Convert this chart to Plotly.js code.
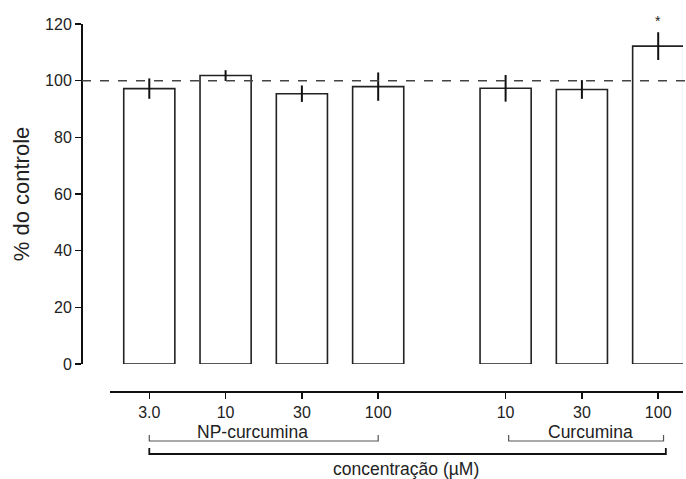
<!DOCTYPE html>
<html>
<head>
<meta charset="utf-8">
<script src="https://cdn.plot.ly/plotly-3.0.1.min.js"></script>
<style>html,body{margin:0;padding:0;background:#fff;}#chart{width:686px;height:479px;}</style>
</head>
<body>
<div id="chart"></div>
<script>
// Data
var positions = [0, 1, 2, 3, 4.67, 5.67, 6.67];
var tickLabels = ['3.0', '10', '30', '100', '10', '30', '100'];
var values = [97.2, 101.8, 95.4, 97.9, 97.3, 96.9, 112.2];
var errors = [3.6, 1.9, 2.9, 5.0, 4.7, 3.3, 4.9];
var groupNames = ['NP-curcumina', 'Curcumina'];
var groupSpans = [[0, 3], [4.71, 6.74]];
var outerSpan = [0, 6.77];
var xTitle = 'concentração (µM)';
var yTitle = '% do controle';
var controlLevel = 100;
var significant = [false, false, false, false, false, false, true];

var FONT = 'Arial, "Liberation Sans", Helvetica, sans-serif';
var W = 686, H = 479;
var margin = {l: 82, r: 3, t: 24, b: 87};
var pw = W - margin.l - margin.r;
var ph = H - margin.t - margin.b;
var xDomain = [28 / pw, 1];
var xRange = [-0.515, 6.995];
var yDomain = [28 / ph, 1];

function xp(x) { // data x -> paper x
  return xDomain[0] + (x - xRange[0]) / (xRange[1] - xRange[0]) * (xDomain[1] - xDomain[0]);
}
function yp(px) { // pixel offset below the plot bottom -> paper y
  return -px / ph;
}

var shapes = [];
// dashed control line
shapes.push({type: 'line', xref: 'paper', yref: 'y', x0: 0, x1: 1.005, y0: controlLevel, y1: controlLevel,
  line: {color: '#444', width: 1.5, dash: 'dash'}});
// group brackets
groupSpans.forEach(function (s) {
  shapes.push({type: 'path', xref: 'paper', yref: 'paper',
    path: 'M' + xp(s[0]) + ',' + yp(43) + ' L' + xp(s[0]) + ',' + yp(49) + ' L' + xp(s[1]) + ',' + yp(49) + ' L' + xp(s[1]) + ',' + yp(43),
    line: {color: '#555', width: 1.2}});
});
shapes.push({type: 'path', xref: 'paper', yref: 'paper',
  path: 'M' + xp(outerSpan[0]) + ',' + yp(56) + ' L' + xp(outerSpan[0]) + ',' + yp(62) + ' L' + xp(outerSpan[1]) + ',' + yp(62) + ' L' + xp(outerSpan[1]) + ',' + yp(56),
  line: {color: '#111', width: 1.8}});

var annotations = [
  {xref: 'paper', yref: 'paper', x: xp(1.35), y: yp(40), yanchor: 'middle', xanchor: 'center', text: groupNames[0], showarrow: false, font: {family: FONT, size: 17.5, color: '#222'}},
  {xref: 'paper', yref: 'paper', x: xp(5.78), y: yp(40), yanchor: 'middle', xanchor: 'center', text: groupNames[1], showarrow: false, font: {family: FONT, size: 17.5, color: '#222'}},
  {xref: 'paper', yref: 'paper', x: xp(3.36), y: yp(77), yanchor: 'middle', xanchor: 'center', text: xTitle, showarrow: false, font: {family: FONT, size: 17.5, color: '#222'}}
];
positions.forEach(function (x, i) {
  if (significant[i]) {
    annotations.push({xref: 'x', yref: 'y', x: x, y: values[i] + errors[i], yanchor: 'bottom', yshift: 1,
      text: '*', showarrow: false, font: {family: FONT, size: 14, color: '#222'}});
  }
});

var trace = {
  type: 'bar', x: positions, y: values, width: 0.67,
  marker: {color: '#fff', line: {color: '#222', width: 1.6}},
  error_y: {type: 'data', array: errors, visible: true, color: '#111', thickness: 2, width: 0},
  hoverinfo: 'x+y'
};

var layout = {
  width: W, height: H, margin: margin,
  paper_bgcolor: '#fff', plot_bgcolor: '#fff', showlegend: false,
  font: {family: FONT, size: 16, color: '#222'},
  xaxis: {domain: xDomain, range: xRange, anchor: 'free', position: 0,
    tickmode: 'array', tickvals: positions, ticktext: tickLabels,
    showline: true, linecolor: '#111', linewidth: 2, ticks: 'outside', ticklen: 6, tickwidth: 1.5, tickcolor: '#111',
    showgrid: false, zeroline: false, tickfont: {family: FONT, size: 16, color: '#222'}},
  yaxis: {domain: yDomain, range: [0, 120], anchor: 'free', position: 0, dtick: 20,
    showline: true, linecolor: '#111', linewidth: 2, ticks: 'outside', ticklen: 6, tickwidth: 1.5, tickcolor: '#111',
    showgrid: false, zeroline: false, tickfont: {family: FONT, size: 16, color: '#222'},
    title: {text: yTitle, font: {family: FONT, size: 22, color: '#222'}, standoff: 8}},
  shapes: shapes, annotations: annotations
};

Plotly.newPlot('chart', [trace], layout, {staticPlot: true});
</script>
</body>
</html>
